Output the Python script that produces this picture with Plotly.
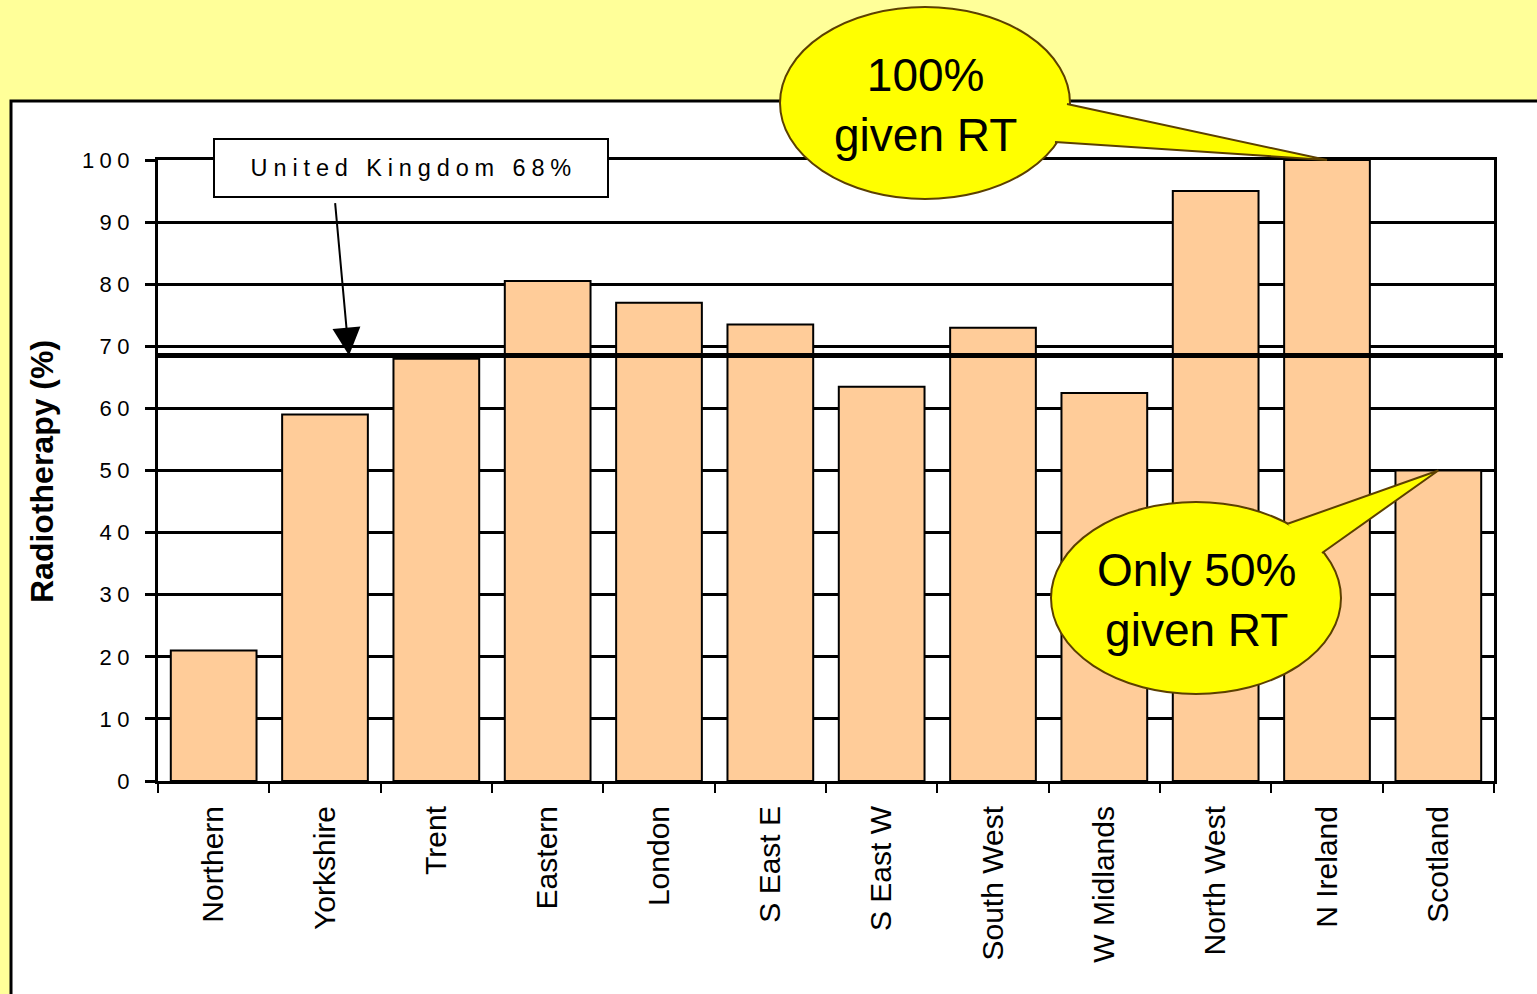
import plotly.graph_objects as go

# ---------------- data ----------------
regions = ["Northern", "Yorkshire", "Trent", "Eastern", "London", "S East E",
           "S East W", "South West", "W Midlands", "North West", "N Ireland", "Scotland"]
radiotherapy_pct = [21, 59, 68, 80.5, 77, 73.5, 63.5, 73, 62.5, 95, 100, 50]
uk_average = 68.5
uk_label = "United Kingdom 68%"
y_tick_values = [0, 10, 20, 30, 40, 50, 60, 70, 80, 90, 100]
y_title = "Radiotherapy (%)"
callout_high_text = "100%<br>given RT"
callout_low_text = "Only 50%<br>given RT"
callout_high_region = "N Ireland"
callout_low_region = "Scotland"

# ---------------- layout geometry ----------------
W, H = 1537, 994
L, R, T, B = 158, 1494, 160, 781
FONT = "Liberation Sans, Arial, sans-serif"
YELLOW_BG = "#FFFF99"
BAR = "#FFCC99"
CALLOUT_FILL = "#FFFF00"
CALLOUT_LINE = "#5C4000"
SP = "\u2005"


def px_x(px):
    return (px - L) / (R - L)


def px_y(py):
    return (B - py) / (B - T)


def spaced(s):
    return SP.join(list(s))


def data_to_paper(region, value):
    i = regions.index(region)
    return (i + 0.5) / len(regions), value / 100.0


fig = go.Figure()
fig.add_trace(go.Bar(
    x=regions, y=radiotherapy_pct,
    marker=dict(color=BAR, line=dict(color="black", width=2)),
    hoverinfo="skip",
))

shapes = []
# white panel behind the chart
shapes.append(dict(type="rect", xref="paper", yref="paper", layer="below",
                   x0=px_x(11), x1=px_x(1560), y0=px_y(1010), y1=px_y(101),
                   fillcolor="white", line=dict(color="black", width=3)))
# UK average line
shapes.append(dict(type="line", xref="paper", yref="y", layer="above",
                   x0=0, x1=px_x(1503), y0=uk_average, y1=uk_average,
                   line=dict(color="black", width=5)))


def callout(cx, cy, rx, ry, base1, base2, tip):
    out = [dict(type="circle", xref="paper", yref="paper", layer="above",
                x0=px_x(cx - rx), x1=px_x(cx + rx), y0=px_y(cy + ry), y1=px_y(cy - ry),
                fillcolor=CALLOUT_FILL, line=dict(color=CALLOUT_LINE, width=2))]
    bx1, by1 = px_x(base1[0]), px_y(base1[1])
    bx2, by2 = px_x(base2[0]), px_y(base2[1])
    tx, ty = tip
    path = f"M {bx1},{by1} L {tx},{ty} L {bx2},{by2}"
    out.append(dict(type="path", xref="paper", yref="paper", layer="above", path=path,
                    fillcolor=CALLOUT_FILL, line=dict(color=CALLOUT_LINE, width=2)))
    return out


shapes += callout(925, 103, 145, 96, (1067, 104), (1055, 142),
                  data_to_paper(callout_high_region, 100))
shapes += callout(1196, 598, 145, 96, (1287, 524), (1322, 553),
                  data_to_paper(callout_low_region, 50))

annotations = [
    # y-axis title
    dict(text=f"<b>{y_title}</b>", xref="paper", yref="paper", x=px_x(42), y=px_y(472),
         textangle=-90, showarrow=False, font=dict(family=FONT, size=32, color="black"),
         xanchor="center", yanchor="middle"),
    # UK label box
    dict(text=spaced(uk_label), xref="paper", yref="paper", x=px_x(411), y=px_y(168),
         showarrow=False, width=392, height=56, bgcolor="white", bordercolor="black",
         borderwidth=2, borderpad=0, font=dict(family=FONT, size=23.5, color="black"),
         xanchor="center", yanchor="middle"),
    # arrow to UK line
    dict(text="", xref="paper", yref="y", x=px_x(349), y=uk_average,
         ax=-14, ay=-154, showarrow=True, arrowhead=2, arrowsize=2.8, arrowwidth=2,
         arrowcolor="black"),
    # callout texts
    dict(text=callout_high_text, xref="paper", yref="paper", x=px_x(925), y=px_y(105),
         showarrow=False, font=dict(family=FONT, size=46, color="black"),
         xanchor="center", yanchor="middle"),
    dict(text=callout_low_text, xref="paper", yref="paper", x=px_x(1196), y=px_y(600),
         showarrow=False, font=dict(family=FONT, size=46, color="black"),
         xanchor="center", yanchor="middle"),
]

fig.update_layout(
    width=W, height=H,
    margin=dict(l=L, r=W - R, t=T, b=H - B, pad=0),
    paper_bgcolor=YELLOW_BG, plot_bgcolor="white",
    showlegend=False, bargap=0.23,
    shapes=shapes, annotations=annotations,
    font=dict(family=FONT, color="black"),
)
fig.update_xaxes(
    type="category", automargin=False, showgrid=False,
    showline=True, linecolor="black", linewidth=3, mirror=True,
    ticks="outside", tickson="boundaries", ticklen=9, tickwidth=2, tickcolor="black",
    tickangle=-90, tickfont=dict(family=FONT, size=30, color="black"),
    ticklabelstandoff=10,
)
fig.update_yaxes(
    range=[0, 100], automargin=False, zeroline=False,
    showgrid=True, gridcolor="black", gridwidth=2.5,
    showline=True, linecolor="black", linewidth=3, mirror=True,
    tickvals=y_tick_values, ticktext=[spaced(str(v)) for v in y_tick_values],
    ticks="outside", ticklen=10, tickwidth=2.5, tickcolor="black",
    tickfont=dict(family=FONT, size=22, color="black"),
    ticklabelstandoff=11,
)

fig.write_html(
    "out.html",
    config={"displayModeBar": False},
    post_script="document.body.style.margin='0';document.body.style.overflow='hidden';"
                "document.body.style.background='" + YELLOW_BG + "';",
)
